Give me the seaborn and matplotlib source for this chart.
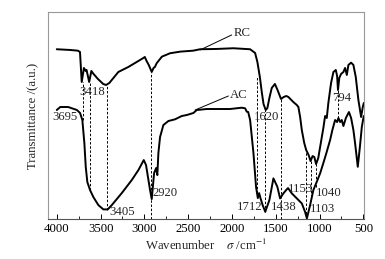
import numpy as np
import pandas as pd
import matplotlib
matplotlib.use('Agg')
import matplotlib.pyplot as plt
from matplotlib.ticker import MultipleLocator
import seaborn as sns

# RC spectrum (wavenumber, transmittance a.u.)
rc_wn = [4000, 3850, 3760, 3735, 3715, 3690, 3670, 3660, 3630, 3605, 3580, 3530,
         3470, 3437, 3400, 3372, 3297, 3183, 3087, 3011, 2995, 2975, 2950, 2916,
         2895, 2880, 2860, 2800, 2707, 2592, 2441, 2364, 2174, 1984, 1793, 1736,
         1710, 1680, 1660, 1640, 1615, 1596, 1573, 1546, 1510, 1480, 1440, 1410,
         1380, 1356, 1300, 1260, 1242, 1222, 1203, 1175, 1153, 1125, 1103, 1080,
         1060, 1040, 1015, 990, 957, 937, 918, 900, 869, 842, 815, 800, 790, 775,
         755, 728, 709, 689, 671, 640, 614, 587, 557, 526, 507, 495]
rc_t = [169.7, 169, 168.3, 167, 137, 151, 148, 149, 137, 148, 145, 140,
        135, 134, 136, 139, 147, 152, 157, 161, 162, 158, 154, 147,
        151, 152, 155.7, 162.3, 165.7, 167.3, 168.3, 169.7, 170, 170.7, 169.7, 166,
        157, 141, 127, 115, 109, 111, 121, 131, 135, 129, 120, 122,
        123, 122, 117, 114, 112, 102, 89, 76, 69, 64, 58, 63,
        62, 55, 61, 74, 91, 103, 101, 116, 136, 147, 149, 143, 129, 141,
        145, 147, 151, 144, 154, 156.3, 154, 142, 119, 102, 112, 116]

# AC spectrum
ac_wn = [4000, 3960, 3870, 3770, 3734, 3708, 3685, 3669, 3651, 3620, 3582, 3525,
         3468, 3418, 3372, 3258, 3144, 3068, 3007, 2981, 2935, 2916, 2889, 2866,
         2852, 2840, 2821, 2783, 2726, 2650, 2573, 2516, 2441, 2402, 2288, 2174,
         2022, 1888, 1850, 1831, 1815, 1793, 1755, 1725, 1705, 1690, 1675, 1650,
         1620, 1573, 1527, 1482, 1451, 1413, 1382, 1360, 1317, 1260, 1203, 1166,
         1145, 1108, 1071, 1032, 994, 957, 918, 880, 854, 823, 800, 785, 765, 747,
         728, 700, 665, 640, 614, 595, 564, 540, 518, 500, 495]
ac_t = [109, 112, 112, 109, 106, 99, 76, 52, 37, 29, 22, 14,
        9.7, 9.7, 14, 26, 39, 49, 59, 54, 29, 20, 46, 51,
        44, 66, 82, 94, 98, 99.7, 103, 104, 106, 109, 110, 110,
        110, 111.3, 110.7, 107.3, 107, 99, 66, 32, 21, 26, 21, 14,
        7.3, 19, 40.7, 32.3, 20.7, 25.7, 29, 31, 25.7, 20.7, 15.7, 7.3,
        0.7, 14, 29, 37.3, 45.7, 56, 67.3, 79, 89, 99, 97, 101, 97, 99,
        93, 101, 107, 101, 89, 76, 52.3, 72, 92, 101, 103]

# dashed guide lines: position, top, bottom
guide_wn = [3695, 3620, 3430, 2920, 1712, 1620, 1438, 1153, 1103, 1040, 794]
guide_top = [137, 137, 134, 147, 142, 109, 120, 69, 58, 55, 129]
guide_bot = [99, 29, 9, 0, 22, 7, 0, 1, 22, 32, 101]

# peak labels
peak_text = ['3695', '3418', '3405', '2920', '1620', '794', '1712', '1438', '1153', '1040', '1103']
peak_x = [3911, 3600, 3249, 2764, 1603, 747, 1796, 1413, 1214, 892, 966]
peak_y = [102, 127, 7.3, 26.3, 102.3, 120.7, 11.7, 11.7, 29.7, 26.3, 9.7]

sns.set_style('white')
plt.rcParams['font.family'] = ['Liberation Serif', 'DejaVu Serif']
plt.rcParams['mathtext.fontset'] = 'stix'

rc = pd.DataFrame({'wn': rc_wn, 't': rc_t})
ac = pd.DataFrame({'wn': ac_wn, 't': ac_t})

fs = 9.2

fig = plt.figure(figsize=(3.85, 2.59), dpi=100)
ax = fig.add_axes([0.124, 0.154, 0.821, 0.800])

sns.lineplot(data=rc, x='wn', y='t', ax=ax, color='black', lw=1.4, sort=False)
sns.lineplot(data=ac, x='wn', y='t', ax=ax, color='black', lw=1.4, sort=False)

ax.vlines(guide_wn, guide_bot, guide_top, colors='black', linestyles=(0, (2.5, 1.8)), lw=0.7)

for s, x, y in zip(peak_text, peak_x, peak_y):
    ax.text(x, y, s, fontsize=fs, ha='center', va='center')

# curve names with leader lines
ax.plot([2364, 2003], [169, 184], color='black', lw=0.7)
ax.text(1888, 186, 'RC', fontsize=fs, ha='center', va='center')
ax.plot([2421, 2041], [109, 123], color='black', lw=0.7)
ax.text(1928, 124, 'AC', fontsize=fs, ha='center', va='center')

ax.set_xlim(4103, 495)
ax.set_ylim(0, 207)
ax.xaxis.set_major_locator(MultipleLocator(500))
ax.xaxis.set_minor_locator(MultipleLocator(250))
ax.set_yticks([])
ax.tick_params(axis='x', which='major', direction='in', length=3.5, width=0.7,
               labelsize=fs, pad=3, colors='black', bottom=True)
ax.tick_params(axis='x', which='minor', direction='in', length=2, width=0.7, bottom=True)
for sp in ax.spines.values():
    sp.set_color('#999999')
    sp.set_linewidth(0.8)
ax.spines['bottom'].set_color('#555555')

ax.set_xlabel('Wavenumber    $\\sigma$ /cm$^{-1}$', fontsize=fs, labelpad=2)
ax.set_ylabel('Transmittance /(a.u.)', fontsize=fs, labelpad=6)

fig.savefig('out.png', dpi=100)
